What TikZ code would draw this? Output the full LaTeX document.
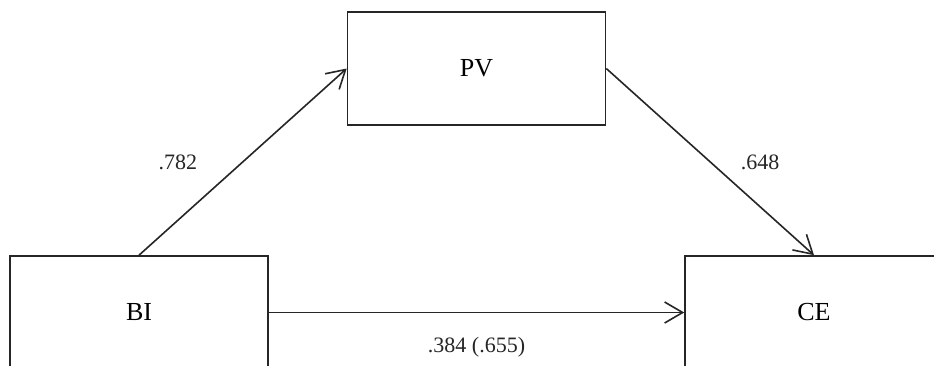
\documentclass[tikz,border=0pt]{standalone}
\usepackage{fontspec}
\setmainfont{Liberation Serif}
\usetikzlibrary{arrows.meta}
\begin{document}
\begin{tikzpicture}[x=1pt,y=-1pt,
  box/.style={draw=black!85,line width=1.6pt,minimum width=258pt,minimum height=113pt,inner sep=0pt,font=\fontsize{26}{30}\selectfont},
  conn/.style={draw=black!85,line width=1.6pt,-{Straight Barb[length=18pt,width=21pt,line width=1.6pt]}},
  lbl/.style={font=\fontsize{22}{26}\selectfont,inner sep=0pt,text=black!85}]
\useasboundingbox (0,0) rectangle (934,365);
\clip (0,0) rectangle (934,365);
\fill[white] (0,0) rectangle (934,365);
\node[box] (PV) at (476.5,68.5) {PV};
\node[box] (BI) at (139,312.5) {BI};
\node[box] (CE) at (814,312.5) {CE};
\draw[conn] (BI.north) -- node[lbl,midway,xshift=-65pt] (l1) {.782} (PV.west);
\draw[conn] (PV.east) -- node[lbl,midway,xshift=50pt] (l2) {.648} (CE.north);
\draw[conn] (BI.east) -- node[lbl,midway,yshift=-35pt] (l3) {.384 (.655)} (CE.west);
\end{tikzpicture}
\end{document}
